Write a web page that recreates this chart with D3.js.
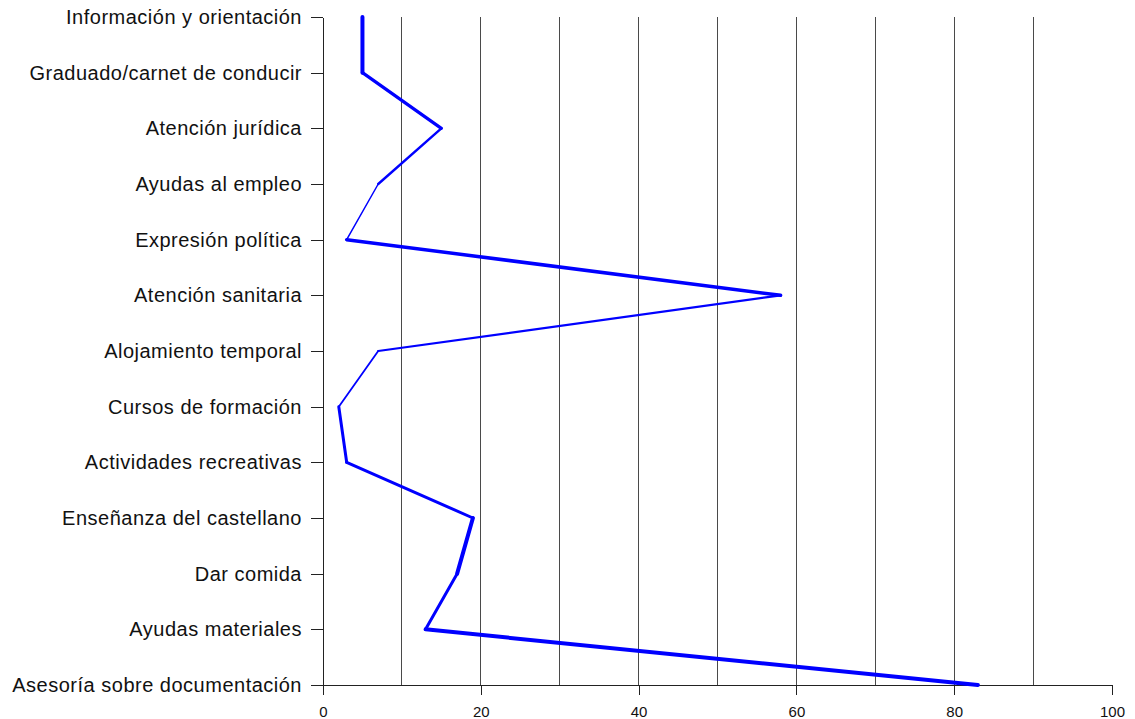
<!DOCTYPE html>
<html><head><meta charset="utf-8">
<script src="https://cdn.jsdelivr.net/npm/d3@7"></script>
<style>body{margin:0;background:#fff}svg{display:block}</style>
</head><body>
<svg id="c" width="1135" height="719"></svg>
<script>
const categories = ["Información y orientación","Graduado/carnet de conducir","Atención jurídica","Ayudas al empleo","Expresión política","Atención sanitaria","Alojamiento temporal","Cursos de formación","Actividades recreativas","Enseñanza del castellano","Dar comida","Ayudas materiales","Asesoría sobre documentación"];
const values = [5,5,15,7,3,58,7,2,3,19,17,13,83];
const xTicks = [0,20,40,60,80,100];
const gridTicks = [10,20,30,40,50,60,70,80,90];
const segWidths = [4,3.2,2.4,1.5,3.5,2.2,1.8,3,3,4,3,4];

const svg = d3.select("#c");
const x = d3.scaleLinear().domain([0,100]).range([323,1112]);
const y = d3.scalePoint().domain(categories).range([17,685]);
const font = "'Liberation Sans', Arial, sans-serif";

svg.append("g").selectAll("line").data(gridTicks).join("line")
  .attr("x1",d=>x(d)).attr("x2",d=>x(d)).attr("y1",17).attr("y2",685)
  .attr("stroke","#4a4a4a").attr("stroke-width",1).attr("shape-rendering","crispEdges");

const gy = svg.append("g").attr("transform","translate(323,0)")
  .call(d3.axisLeft(y).tickSize(12).tickPadding(9).tickSizeOuter(0));
const gx = svg.append("g").attr("transform","translate(0,685)")
  .call(d3.axisBottom(x).tickValues(xTicks).tickSize(10).tickPadding(11).tickSizeOuter(0));
[gx,gy].forEach(g=>{
  g.select(".domain").attr("stroke","#222").attr("shape-rendering","crispEdges");
  g.selectAll(".tick line").attr("stroke","#222").attr("shape-rendering","crispEdges");
});
gy.selectAll("text").attr("font-family",font).attr("font-size",20).attr("letter-spacing","0.5px").attr("fill","#111");
gx.selectAll("text").attr("font-family",font).attr("font-size",15).attr("fill","#111");

const pts = categories.map((c,i)=>[x(values[i]), y(c)]);
svg.append("g").selectAll("line").data(d3.pairs(pts)).join("line")
  .attr("x1",d=>d[0][0]).attr("y1",d=>d[0][1]).attr("x2",d=>d[1][0]).attr("y2",d=>d[1][1])
  .attr("stroke","#0000ff").attr("stroke-width",(d,i)=>segWidths[i]).attr("stroke-linecap","round");
</script>
</body></html>
